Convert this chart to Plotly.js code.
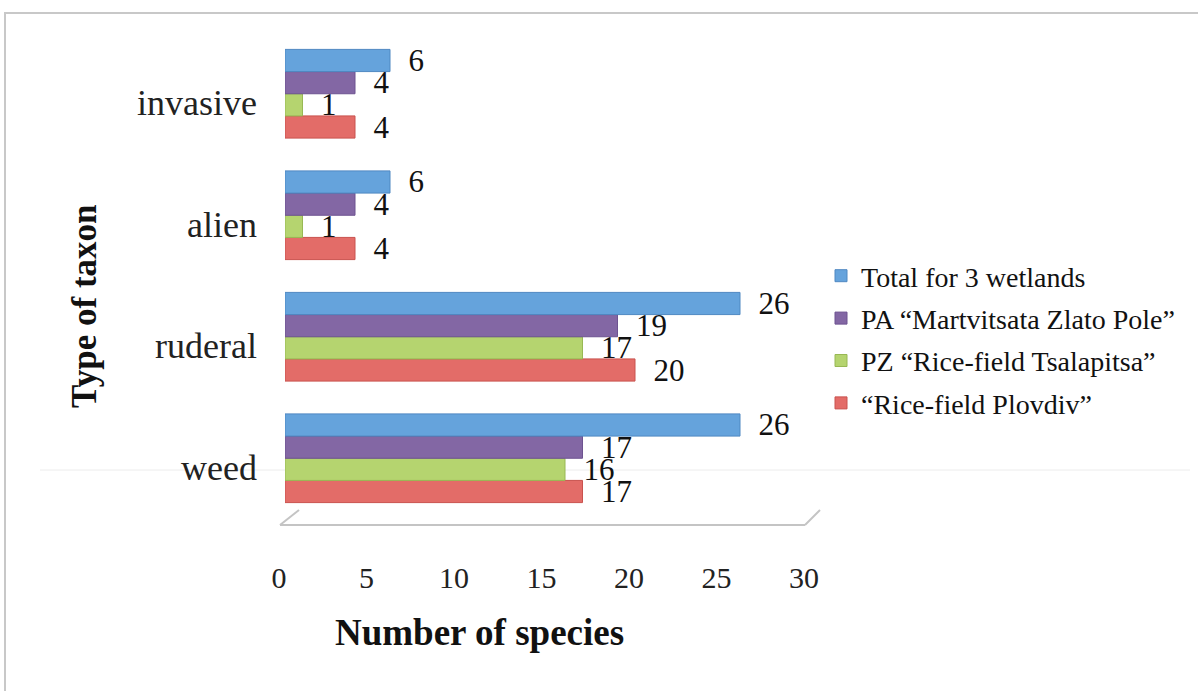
<!DOCTYPE html>
<html>
<head>
<meta charset="utf-8">
<script src="https://cdn.plot.ly/plotly-3.0.1.min.js"></script>
<style>
html,body{margin:0;padding:0;background:#fff;}
#wrap{position:relative;width:1198px;height:691px;overflow:hidden;}
#frame{position:absolute;left:4px;top:12px;width:1200px;height:700px;border-left:2px solid #c8c8c8;border-top:2px solid #c8c8c8;pointer-events:none;}
#chart{position:absolute;left:0;top:0;width:1198px;height:691px;}
</style>
</head>
<body>
<div id="wrap"><div id="chart"></div><div id="frame"></div></div>
<script>
// Data
const categories = ['weed', 'ruderal', 'alien', 'invasive'];
const totalWetlands = [26, 26, 6, 6];
const paMartvitsata = [17, 19, 4, 4];
const pzTsalapitsa = [16, 17, 1, 1];
const ricePlovdiv = [17, 20, 4, 4];
const seriesNames = [
  '\u201cRice-field Plovdiv\u201d',
  'PZ \u201cRice-field Tsalapitsa\u201d',
  'PA \u201cMartvitsata Zlato Pole\u201d',
  'Total for 3 wetlands'
];
const xTicks = [0, 5, 10, 15, 20, 25, 30];

const colors = ['#e36c68', '#b5d46f', '#8367a4', '#65a3dc'];
const lineColors = ['#c9524e', '#98b854', '#6d5390', '#4f88c2'];
const seriesValues = [ricePlovdiv, pzTsalapitsa, paMartvitsata, totalWetlands];

const FONT = 'Liberation Serif, Times New Roman, serif';

const traces = seriesValues.map((vals, i) => ({
  type: 'bar',
  orientation: 'h',
  y: categories,
  x: vals,
  name: seriesNames[i],
  legendgroup: 'g' + i,
  legendrank: 10 - i,
  marker: {color: colors[i], line: {color: lineColors[i], width: 1}},
  texttemplate: '\u2002%{x}',
  textposition: 'outside',
  constraintext: 'none',
  cliponaxis: false,
  textfont: {family: FONT, size: 31, color: '#111'},
  hoverinfo: 'x+name'
}));

// plot area pixel geometry helpers for decoration shapes
const L = 285, R = 810, T = 33, B = 519;
const px = p => (p - L) / (R - L);
const py = p => 1 - (p - T) / (B - T);

const layout = {
  width: 1198,
  height: 691,
  margin: {l: L, r: 1198 - R, t: T, b: 691 - B, pad: 0},
  paper_bgcolor: 'rgba(0,0,0,0)',
  plot_bgcolor: 'rgba(0,0,0,0)',
  barmode: 'group',
  bargap: 0.27,
  bargroupgap: 0,
  font: {family: FONT, color: '#222'},
  showlegend: true,
  legend: {
    x: px(821), xanchor: 'left',
    y: py(251), yanchor: 'top',
    traceorder: 'grouped',
    tracegroupgap: 3,
    font: {family: FONT, size: 28, color: '#111'},
    bgcolor: 'rgba(0,0,0,0)'
  },
  xaxis: {
    range: [0, 30],
    tickvals: xTicks,
    ticktext: xTicks.map(String),
    showgrid: false,
    zeroline: false,
    showline: false,
    ticks: '',
    ticklabelstandoff: 38,
    ticklabelshift: -6,
    tickfont: {family: FONT, size: 30, color: '#222'},
    fixedrange: true
  },
  yaxis: {
    type: 'category',
    categoryorder: 'array',
    categoryarray: categories,
    showgrid: false,
    zeroline: false,
    showline: false,
    ticks: '',
    ticklabelstandoff: 27,
    ticklabelshift: 9,
    tickfont: {family: FONT, size: 36, color: '#222'},
    fixedrange: true
  },
  annotations: [
    {
      text: 'Number of species', xref: 'paper', yref: 'paper',
      x: px(479), y: py(632), xanchor: 'center', yanchor: 'middle',
      showarrow: false, font: {family: FONT, size: 37, color: '#111', weight: 'bold'}
    },
    {
      text: 'Type of taxon', xref: 'paper', yref: 'paper',
      x: px(84), y: py(306), xanchor: 'center', yanchor: 'middle',
      textangle: -90,
      showarrow: false, font: {family: FONT, size: 35, color: '#111', weight: 'bold'}
    }
  ],
  shapes: [
    // 3D floor outline
    {type: 'line', xref: 'paper', yref: 'paper', x0: px(280), y0: py(525), x1: px(805), y1: py(525), line: {color: '#c4c4c4', width: 2}},
    {type: 'line', xref: 'paper', yref: 'paper', x0: px(280), y0: py(525), x1: px(299), y1: py(510), line: {color: '#c4c4c4', width: 2}},
    {type: 'line', xref: 'paper', yref: 'paper', x0: px(805), y0: py(525), x1: px(820), y1: py(510), line: {color: '#c4c4c4', width: 2}},
    // faint scan line
    {type: 'line', xref: 'paper', yref: 'paper', x0: px(40), y0: py(470), x1: px(1190), y1: py(470), line: {color: '#ececec', width: 1}, layer: 'below'}
  ]
};

Plotly.newPlot('chart', traces, layout, {displayModeBar: false, staticPlot: true});
</script>
</body>
</html>
